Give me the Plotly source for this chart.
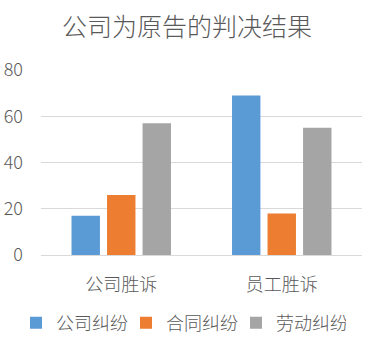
import plotly.graph_objects as go

categories = ["公司胜诉", "员工胜诉"]
series_names = ["公司纠纷", "合同纠纷", "劳动纠纷"]
company = [17, 69]
contract = [26, 18]
labor = [57, 55]
colors = ["#5B9BD5", "#ED7D31", "#A5A5A5"]
y_ticks = [0, 20, 40, 60, 80]

fig = go.Figure()
for name, vals, c in zip(series_names, [company, contract, labor], colors):
    fig.add_trace(go.Bar(x=categories, y=vals, name=name, marker_color=c, marker_line_width=0))

font = "Noto Sans CJK SC"
fig.update_layout(
    width=378, height=351,
    margin=dict(l=41, r=16, t=70, b=96, autoexpand=False),
    paper_bgcolor="white", plot_bgcolor="white",
    font=dict(family=font, color="#595959", size=18, weight=300),
    title=dict(text="公司为原告的判决结果", x=187/378, xanchor="center", y=1 - 27.5/351, yanchor="middle",
               font=dict(size=25, color="#595959", family=font, weight=300)),
    barmode="group", bargap=0.336, bargroupgap=0.2,
    showlegend=True,
    legend=dict(orientation="h", x=(16-41)/321, xanchor="left", y=-(323-255)/185, yanchor="middle",
                font=dict(size=18, color="#595959", weight=300), itemwidth=30, tracegroupgap=0,
                entrywidth=65, entrywidthmode="pixels"),
    xaxis=dict(showgrid=False, showline=False, ticks="", tickfont=dict(size=18, weight=300),
               ticklabelstandoff=17, automargin=False),
    yaxis=dict(range=[0, 80], tickvals=y_ticks, showgrid=True, gridcolor="#D9D9D9", gridwidth=1,
               zeroline=True, zerolinecolor="#D9D9D9", zerolinewidth=1, showline=False,
               tickfont=dict(size=18, weight=300), ticklabelstandoff=17, automargin=False),
)
fig.write_html("out.html")
